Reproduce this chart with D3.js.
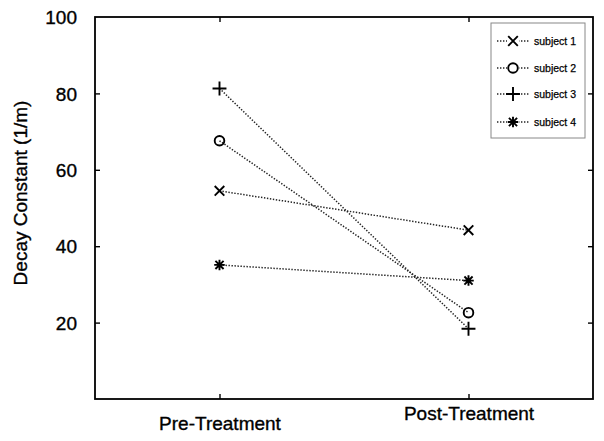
<!DOCTYPE html>
<html><head><meta charset="utf-8">
<script src="https://cdn.jsdelivr.net/npm/d3@7"></script>
<style>body{margin:0;background:#fff}svg{display:block}text{font-family:"Liberation Sans",Arial,sans-serif;fill:#000;stroke:#000;stroke-width:0.35px}</style>
</head><body>
<svg id="c" width="604" height="441"></svg>
<script>
const categories = ["Pre-Treatment", "Post-Treatment"];
const subjects = ["subject 1", "subject 2", "subject 3", "subject 4"];
const markers = ["x", "o", "+", "*"];
const subject1 = [54.5, 44.2];
const subject2 = [67.6, 22.6];
const subject3 = [81.3, 18.4];
const subject4 = [35.1, 31.0];
const yTicks = [20, 40, 60, 80, 100];
const series = [subject1, subject2, subject3, subject4];

const svg = d3.select("#c");
const L = 95, R = 593, T = 17, B = 399;
const x = d3.scalePoint().domain(categories).range([L, R]).padding(0.5);
const y = d3.scaleLinear().domain([0, 100]).range([B, T]);

function markerPath(m, s) {
  const p = d3.path();
  if (m === "x") { p.moveTo(-s, -s); p.lineTo(s, s); p.moveTo(-s, s); p.lineTo(s, -s); }
  else if (m === "+") { const t = s * 1.45; p.moveTo(-t, 0); p.lineTo(t, 0); p.moveTo(0, -t); p.lineTo(0, t); }
  else if (m === "*") { const t = s * 1.1; p.moveTo(-t, 0); p.lineTo(t, 0); p.moveTo(0, -t); p.lineTo(0, t);
    p.moveTo(-s*0.85, -s*0.85); p.lineTo(s*0.85, s*0.85); p.moveTo(-s*0.85, s*0.85); p.lineTo(s*0.85, -s*0.85); }
  else { p.moveTo(s, 0); p.arc(0, 0, s, 0, 2 * Math.PI); }
  return p.toString();
}

// frame
svg.append("rect").attr("x", L).attr("y", T).attr("width", R - L).attr("height", B - T)
  .attr("fill", "none").attr("stroke", "#000").attr("stroke-width", 1.8);

// axes
const fs = "19px";
const yAxis = svg.append("g").attr("transform", `translate(${L},0)`)
  .call(d3.axisLeft(y).tickValues(yTicks).tickSizeInner(-5).tickSizeOuter(0).tickPadding(18));
yAxis.select(".domain").remove();
yAxis.selectAll("line").attr("stroke-width", 1.4);
yAxis.selectAll("line").filter(d => d === 100).remove();
yAxis.selectAll("text").style("font-size", fs).attr("dy", "0.35em");

const yAxisR = svg.append("g").attr("transform", `translate(${R},0)`)
  .call(d3.axisRight(y).tickValues(yTicks.filter(d => d < 100)).tickSizeInner(-5).tickSizeOuter(0).tickFormat(""));
yAxisR.select(".domain").remove();
yAxisR.selectAll("line").attr("stroke-width", 1.4);

const xAxis = svg.append("g").attr("transform", `translate(0,${B})`)
  .call(d3.axisBottom(x).tickSizeInner(-5).tickSizeOuter(0).tickPadding(0));
xAxis.select(".domain").remove();
xAxis.selectAll("line").attr("stroke-width", 1.4);
xAxis.selectAll("text").style("font-size", fs)
  .attr("y", (d, i) => i === 0 ? 31 : 21).attr("dy", 0);

const xAxisT = svg.append("g").attr("transform", `translate(0,${T})`)
  .call(d3.axisTop(x).tickSizeInner(-5).tickSizeOuter(0).tickFormat(""));
xAxisT.select(".domain").remove();
xAxisT.selectAll("line").attr("stroke-width", 1.4);

svg.append("text").attr("transform", "translate(27,193) rotate(-90)")
  .attr("text-anchor", "middle").style("font-size", "19px").text("Decay Constant (1/m)");

// series
const line = d3.line().x((d, i) => x(categories[i])).y(d => y(d));
series.forEach((vals, k) => {
  svg.append("path").datum(vals).attr("d", line).attr("fill", "none")
    .attr("stroke", "#222").attr("stroke-width", 1.5).attr("stroke-dasharray", "1.4,1.6");
  svg.selectAll(null).data(vals).enter().append("path")
    .attr("transform", (d, i) => `translate(${x(categories[i])},${y(d)})`)
    .attr("d", markerPath(markers[k], 4.8)).attr("fill", "none")
    .attr("stroke", "#000").attr("stroke-width", 1.9);
});

// legend
const lg = svg.append("g");
lg.append("rect").attr("x", 491).attr("y", 23).attr("width", 94).attr("height", 115)
  .attr("fill", "#fff").attr("stroke", "#888").attr("stroke-width", 1);
const ly = [41, 68, 94, 122];
subjects.forEach((s, k) => {
  lg.append("line").attr("x1", 497).attr("x2", 529).attr("y1", ly[k]).attr("y2", ly[k])
    .attr("stroke", "#222").attr("stroke-width", 1.5).attr("stroke-dasharray", "1.4,1.6");
  lg.append("rect").attr("x", 507).attr("y", ly[k] - 6).attr("width", 12).attr("height", 12).attr("fill", "#fff");
  lg.append("path").attr("transform", `translate(513,${ly[k]})`)
    .attr("d", markerPath(markers[k], 4.8)).attr("fill", "none").attr("stroke", "#000").attr("stroke-width", 1.9);
  lg.append("text").attr("x", 534).attr("y", ly[k]).attr("dy", "0.35em")
    .style("font-size", "10.5px").style("stroke-width", "0.25px").text(s);
});
</script>
</body></html>
